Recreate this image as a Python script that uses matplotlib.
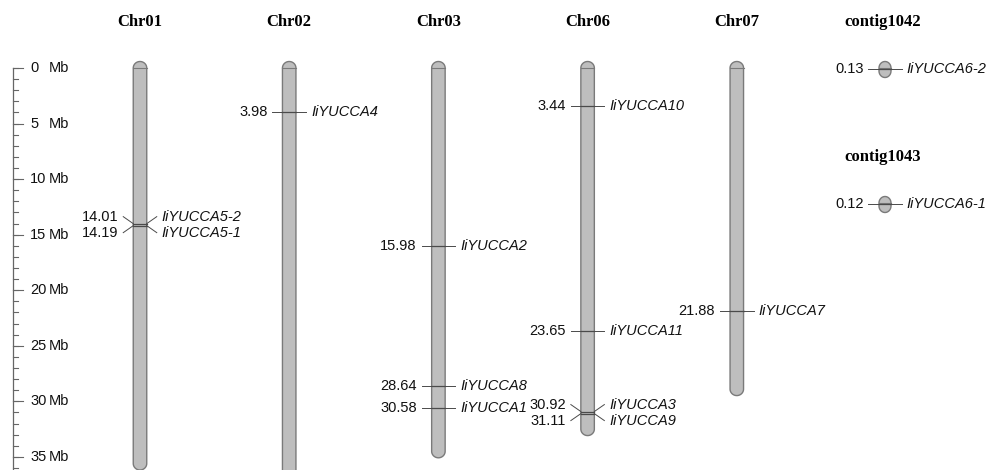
import numpy as np
import matplotlib
matplotlib.use("Agg")
import matplotlib.pyplot as plt
from matplotlib.patches import Polygon

# chromosome data (lengths in Mb)
chrom_names = ['Chr01', 'Chr02', 'Chr03', 'Chr06', 'Chr07']
chrom_lengths = [35.6, 38.5, 34.5, 32.5, 28.9]
contig_names = ['contig1042', 'contig1043']
contig_lengths = [0.27, 0.27]

# gene positions (Mb)
gene_chrom = ['Chr01', 'Chr01', 'Chr02', 'Chr03', 'Chr03', 'Chr03',
              'Chr06', 'Chr06', 'Chr06', 'Chr06', 'Chr07',
              'contig1042', 'contig1043']
gene_pos = [14.01, 14.19, 3.98, 15.98, 28.64, 30.58,
            3.44, 23.65, 30.92, 31.11, 21.88,
            0.13, 0.12]
gene_names = ['IiYUCCA5-2', 'IiYUCCA5-1', 'IiYUCCA4', 'IiYUCCA2', 'IiYUCCA8', 'IiYUCCA1',
              'IiYUCCA10', 'IiYUCCA11', 'IiYUCCA3', 'IiYUCCA9', 'IiYUCCA7',
              'IiYUCCA6-2', 'IiYUCCA6-1']

scale_ticks = np.arange(0, 36, 5)

# layout (x in pixels, y in Mb)
PX = 11.11          # pixels per Mb
Y0 = 68             # pixel row of 0 Mb
W, H = 987, 470
x0, dx = 140, 149.2
half_w = 6.75
cap = 6.5 / PX
label_gap = 16 / PX
contig_offset = [0.0, (203 - Y0) / PX]

fig = plt.figure(figsize=(W / 100, H / 100), dpi=100)
ax = fig.add_axes([0, 0, 1, 1])
ax.set_xlim(0, W)
ax.set_ylim((H - Y0) / PX, -Y0 / PX)
ax.axis('off')

sans = 'Liberation Sans'
serif = 'Liberation Serif'
fill = '#bebebe'
edge = '#7a7a7a'
mark = '#4a4a4a'


def capsule(xc, top, length, hw):
    # rectangle with rounded ends
    t = np.linspace(np.pi, 2 * np.pi, 30)
    upper = np.column_stack([xc + hw * np.cos(t), top + cap * np.sin(t)])
    t2 = np.linspace(0, np.pi, 30)
    lower = np.column_stack([xc + hw * np.cos(t2), top + length + cap * np.sin(t2)])
    pts = np.vstack([upper, lower])
    ax.add_patch(Polygon(pts, closed=True, facecolor=fill, edgecolor=edge, lw=1.0, zorder=2))
    ax.plot([xc - hw, xc + hw], [top, top], color=edge, lw=0.8, zorder=3)


def spread(pos):
    pos = np.asarray(pos, dtype=float)
    order = np.argsort(pos)
    lab = pos.copy()
    # group close labels and centre each group on its mean
    groups = [[order[0]]]
    for i in order[1:]:
        if pos[i] - pos[groups[-1][-1]] < label_gap:
            groups[-1].append(i)
        else:
            groups.append([i])
    for g in groups:
        m = pos[g].mean()
        n = len(g)
        for k, i in enumerate(g):
            lab[i] = m + (k - (n - 1) / 2) * label_gap
    return lab


def draw_genes(name, xc, hw, offset, ext, gap=5):
    idx = [i for i, c in enumerate(gene_chrom) if c == name]
    if not idx:
        return
    pos = np.array([gene_pos[i] for i in idx]) + offset
    lab = spread(pos)
    for i, p, lp in zip(idx, pos, lab):
        xl0, xl1 = xc - hw - ext, xc - hw
        xr0, xr1 = xc + hw, xc + hw + ext
        ax.plot([xl0, xl1], [lp, p], color=mark, lw=0.7, zorder=4)
        ax.plot([xl1, xr0], [p, p], color=mark, lw=0.9, zorder=4)
        ax.plot([xr0, xr1], [p, lp], color=mark, lw=0.7, zorder=4)
        ax.text(xl0 - gap, lp, f'{gene_pos[i]:.2f}', ha='right', va='center',
                fontsize=10.5, family=sans, color='#111111')
        ax.text(xr1 + gap, lp, gene_names[i], ha='left', va='center',
                fontsize=10.5, family=sans, style='italic', color='#111111')


# scale bar on the left
ymax = (H - Y0) / PX
ax.plot([13, 13], [0, ymax], color='#666666', lw=0.9)
for m in range(0, int(ymax) + 1):
    ax.plot([13, 18], [m, m], color='#666666', lw=0.8)
for t in scale_ticks:
    ax.plot([13, 23], [t, t], color='#666666', lw=0.8)
    ax.text(30, t, str(t), ha='left', va='center', fontsize=10.5, family=sans, color='#111111')
    ax.text(49, t, 'Mb', ha='left', va='center', fontsize=10.5, family=sans, color='#111111')

# chromosomes
for k, (name, length) in enumerate(zip(chrom_names, chrom_lengths)):
    xc = x0 + k * dx
    capsule(xc, 0, length, half_w)
    ax.text(xc, (22 - Y0) / PX, name, ha='center', va='center', fontsize=12,
            family=serif, weight='bold')
    draw_genes(name, xc, half_w, 0, 10)

# contigs
xc = x0 + len(chrom_names) * dx - 1
for name, length, off in zip(contig_names, contig_lengths, contig_offset):
    capsule(xc, off, length, 6)
    ax.text(xc - 2, off + (22 - Y0) / PX, name, ha='center', va='center', fontsize=12,
            family=serif, weight='bold')
    draw_genes(name, xc, 6, off, 11, gap=4)

fig.savefig('out.png', dpi=100)
